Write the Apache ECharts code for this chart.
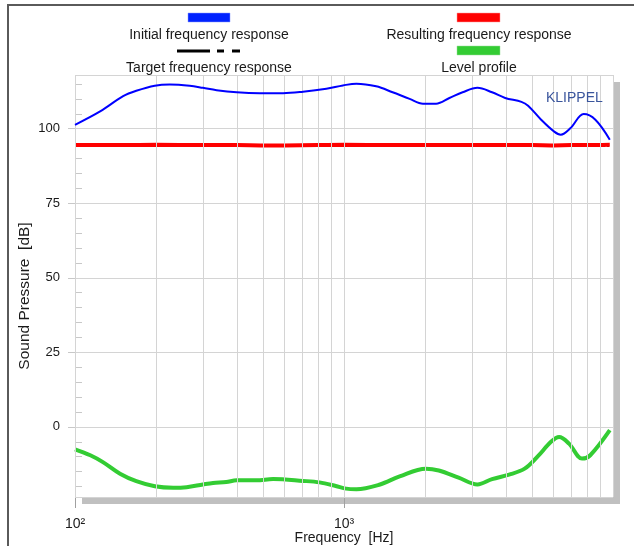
<!DOCTYPE html>
<html>
<head>
<meta charset="utf-8">
<script src="https://cdn.jsdelivr.net/npm/echarts@6/dist/echarts.min.js"></script>
<style>
html,body{margin:0;padding:0;background:#fff;}
#c{width:634px;height:546px;}
</style>
</head>
<body>
<div id="c"></div>
<script>
// ---- data ----
var freqInit = [100,124,151,169,198,225,267,299,336,399,486,594,704,860,991,1112,1317,1516,1754,1966,2199,2465,2760,3133,3552,3973,4566,4834,5406,6047,6395,6950,7777,8600,9730];
var initResp = [101.3,105.8,110.9,112.7,114.4,114.8,114.4,113.7,112.9,112.2,111.9,111.9,112.4,113.4,114.5,115.1,114.2,112.2,110.0,108.4,108.4,110.3,112.2,113.7,112.2,110.3,109.0,107.7,103.0,99.0,98.0,100.2,104.9,103.0,96.3];

var freqRes = [100,150,200,300,400,500,600,800,1000,1500,2000,3000,4000,5000,6000,7000,8000,9730];
var resultResp = [94.5,94.5,94.6,94.5,94.5,94.4,94.4,94.5,94.6,94.5,94.5,94.5,94.5,94.5,94.4,94.5,94.5,94.6];

var freqTarget = [100,9730];
var targetResp = [94.05,94.05];

var freqLevel = [100,114,127,147,169,198,232,260,299,326,365,399,473,545,704,811,932,1018,1112,1361,1610,2014,2251,2667,3133,3552,4110,4695,5260,5882,6306,6862,7671,8232,9730];
var levelProfile = [-7.5,-9.5,-11.8,-15.7,-18.2,-19.9,-20.4,-20.2,-19.3,-18.8,-18.5,-17.9,-17.9,-17.5,-18.1,-18.6,-19.8,-20.7,-20.9,-19.3,-16.6,-14.0,-14.6,-17.0,-19.3,-17.5,-16.0,-14.0,-9.8,-5.0,-3.4,-5.6,-10.6,-9.5,-1.1];

var xMin = 100, xMax = 10000, yMin = -23.5, yMax = 118;
var xGridValues = [200,300,400,500,600,700,800,900,1000,2000,3000,4000,5000,6000,7000,8000,9000];
var yGridValues = [0,25,50,75,100];
var yMinorTicks = [-20,-15,-10,-5,0,5,10,15,20,25,30,35,40,45,50,55,60,65,70,75,80,85,90,95,100,105,110,115];
var xTickValues = [100,1000];
var xTickLabels = {100:'10\u00B2', 1000:'10\u00B3'};

var legendNames = ['Initial frequency response','Resulting frequency response','Target frequency response','Level profile'];

function pairs(xs, ys){ return xs.map(function(x,i){return [x, ys[i]];}); }

var FONT = 'Liberation Sans, Arial, sans-serif';
var chart = echarts.init(document.getElementById('c'), null, {renderer:'canvas'});

var gridLines = xGridValues.map(function(v){return {xAxis: v};})
  .concat(yGridValues.map(function(v){return {yAxis: v};}))
  .concat([{xAxis: xMin}, {xAxis: xMax}, {yAxis: yMin}, {yAxis: yMax}]);

var option = {
  animation: false,
  backgroundColor: '#fff',
  textStyle: {fontFamily: FONT},
  grid: {
    left: 75, right: 21, top: 75, bottom: 49,
    outerBoundsMode: 'none', containLabel: false,
    show: true, backgroundColor: '#fff', borderWidth: 0,
    shadowColor: '#c0c0c0', shadowBlur: 0, shadowOffsetX: 7, shadowOffsetY: 7
  },
  title: {
    text: 'KLIPPEL', left: 541, top: 86,
    textStyle: {fontFamily: FONT, fontSize: 14, fontWeight: 'normal', color: '#3a559c'}
  },
  xAxis: {
    type: 'log', logBase: 10, min: xMin, max: xMax,
    name: 'Frequency  [Hz]', nameLocation: 'middle', nameGap: 34, nameMoveOverlap: false,
    nameTextStyle: {fontFamily: FONT, fontSize: 14, color: '#1a1a1a'},
    axisLine: {show: false, onZero: false},
    axisTick: {show: true, customValues: xTickValues, length: 11, lineStyle: {color: '#a0a0a0'}},
    axisLabel: {show: true, customValues: xTickValues, margin: 20, fontFamily: FONT, fontSize: 14, color: '#1a1a1a',
      formatter: function(v){ return xTickLabels[Math.round(v)] || ''; }},
    splitLine: {show: false},
    minorTick: {show: false}, minorSplitLine: {show: false}
  },
  yAxis: [{
    type: 'value', min: yMin, max: yMax, position: 'left',
    name: 'Sound Pressure  [dB]', nameLocation: 'middle', nameGap: 42, nameRotate: 90, nameMoveOverlap: false,
    nameTextStyle: {fontFamily: FONT, fontSize: 15.5, color: '#1a1a1a', padding: [0, 20, 0, 0]},
    axisLine: {show: false, onZero: false},
    axisTick: {show: true, customValues: yGridValues, length: 7, lineStyle: {color: '#c8c8c8'}},
    axisLabel: {show: true, customValues: yGridValues, margin: 15, fontFamily: FONT, fontSize: 13, color: '#1a1a1a'},
    splitLine: {show: false}
  },{
    type: 'value', min: yMin, max: yMax, position: 'left',
    axisLine: {show: false, onZero: false},
    axisTick: {show: true, inside: true, customValues: yMinorTicks, length: 7, lineStyle: {color: '#c8c8c8'}},
    axisLabel: {show: false},
    splitLine: {show: false}
  }],
  series: [
    {
      name: 'grid', type: 'line', data: [], z: 1, silent: true,
      markLine: {
        silent: true, symbol: ['none','none'], label: {show: false}, animation: false,
        lineStyle: {type: 'solid', color: '#d4d4d4', width: 1},
        emphasis: {disabled: true},
        data: gridLines
      }
    },
    {
      name: legendNames[3], type: 'line', z: 3, smooth: 0.35, symbol: 'none',
      lineStyle: {color: '#33cc33', width: 4}, data: pairs(freqLevel, levelProfile)
    },
    {
      name: legendNames[2], type: 'line', z: 3, smooth: false, symbol: 'none',
      lineStyle: {color: '#222', width: 1, type: [2,2]}, data: pairs(freqTarget, targetResp)
    },
    {
      name: legendNames[1], type: 'line', z: 4, smooth: 0.3, symbol: 'none',
      lineStyle: {color: '#ff0000', width: 4}, data: pairs(freqRes, resultResp)
    },
    {
      name: legendNames[0], type: 'line', z: 5, smooth: 0.35, symbol: 'none',
      lineStyle: {color: '#0000ff', width: 2}, data: pairs(freqInit, initResp)
    }
  ],
  graphic: [
    {type: 'rect', shape: {x: 8, y: 5, width: 800, height: 800}, style: {fill: 'none', stroke: '#5a5a5a', lineWidth: 2}, silent: true, z: 100},
    // legend items
    {type: 'rect', shape: {x: 188, y: 13, width: 42, height: 9}, style: {fill: '#0022ff', stroke: '#8899ff', lineWidth: 0.5}},
    {type: 'text', x: 209, y: 35, style: {text: legendNames[0], font: '14px ' + FONT, fill: '#1a1a1a', textAlign: 'center', textVerticalAlign: 'middle'}},
    {type: 'line', shape: {x1: 177, y1: 51, x2: 210, y2: 51}, style: {stroke: '#000', lineWidth: 3}},
    {type: 'line', shape: {x1: 217, y1: 51, x2: 224, y2: 51}, style: {stroke: '#000', lineWidth: 3}},
    {type: 'line', shape: {x1: 232, y1: 51, x2: 240, y2: 51}, style: {stroke: '#000', lineWidth: 3}},
    {type: 'text', x: 209, y: 68, style: {text: legendNames[2], font: '14px ' + FONT, fill: '#1a1a1a', textAlign: 'center', textVerticalAlign: 'middle'}},
    {type: 'rect', shape: {x: 457, y: 13, width: 43, height: 9}, style: {fill: '#ff0000', stroke: '#ff9999', lineWidth: 0.5}},
    {type: 'text', x: 479, y: 35, style: {text: legendNames[1], font: '14px ' + FONT, fill: '#1a1a1a', textAlign: 'center', textVerticalAlign: 'middle'}},
    {type: 'rect', shape: {x: 457, y: 46, width: 43, height: 9}, style: {fill: '#33cc33', stroke: '#99dd99', lineWidth: 0.5}},
    {type: 'text', x: 479, y: 68, style: {text: legendNames[3], font: '14px ' + FONT, fill: '#1a1a1a', textAlign: 'center', textVerticalAlign: 'middle'}}
  ]
};
chart.setOption(option);
</script>
</body>
</html>
